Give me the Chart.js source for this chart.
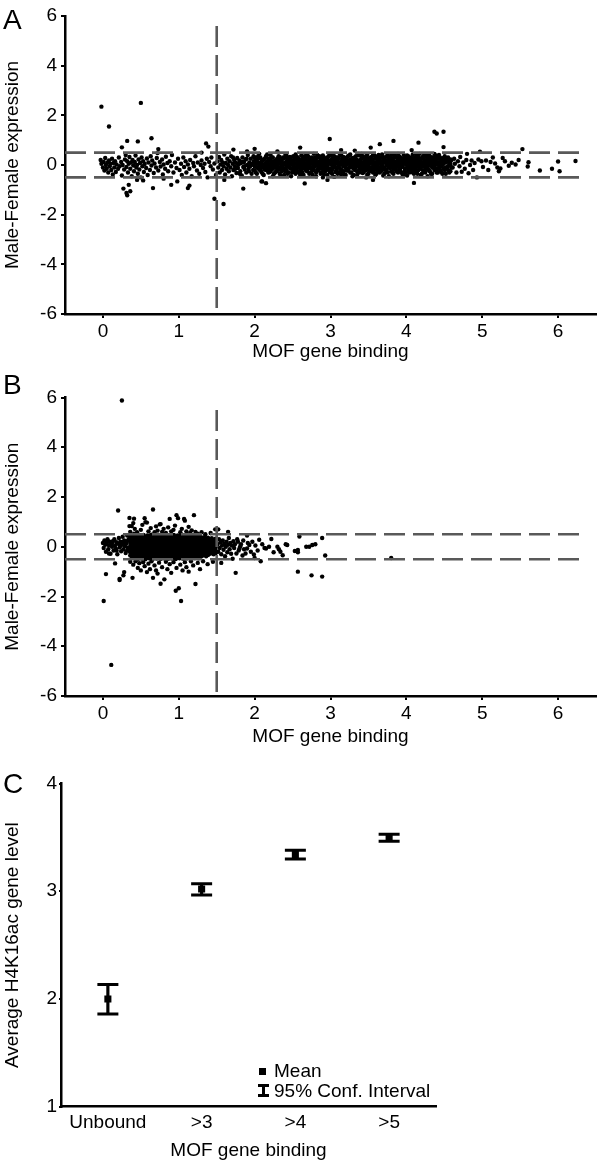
<!DOCTYPE html>
<html><head><meta charset="utf-8">
<script src="https://cdn.jsdelivr.net/npm/chart.js@4.4.1/dist/chart.umd.min.js"></script>
<style>
html,body{margin:0;padding:0;background:#fff;}
body{width:600px;height:1162px;position:relative;overflow:hidden;font-family:"Liberation Sans",Arial,Helvetica,sans-serif;color:#000;}
.wrap{position:absolute;left:0;width:600px;}
.letter{position:absolute;left:3px;font-size:28px;line-height:1;}
.leg{position:absolute;font-size:19px;line-height:1;white-space:nowrap;}
</style></head><body>
<div class="wrap" style="top:0;height:370px"><canvas id="cA" width="600" height="370"></canvas></div>
<div class="wrap" style="top:382px;height:370px"><canvas id="cB" width="600" height="370"></canvas></div>
<div class="wrap" style="top:770px;height:392px"><canvas id="cC" width="600" height="392"></canvas></div>
<div class="letter" style="top:6px">A</div>
<div class="letter" style="top:371px">B</div>
<div class="letter" style="top:770px">C</div>
<div style="position:absolute;left:259px;top:1068px;width:7px;height:7px;background:#000"></div>
<div class="leg" style="left:274px;top:1061px">Mean</div>
<div style="position:absolute;left:258px;top:1084px;width:11px;height:13px;">
  <div style="position:absolute;left:0;top:0;width:11px;height:3px;background:#000"></div>
  <div style="position:absolute;left:4px;top:0;width:3px;height:13px;background:#000"></div>
  <div style="position:absolute;left:0;top:10px;width:11px;height:3px;background:#000"></div>
</div>
<div class="leg" style="left:274px;top:1081px">95% Conf. Interval</div>
<script>
// ---------- shared ticks / reference lines ----------
const xTicksAB = [0, 1, 2, 3, 4, 5, 6];
const yTicksAB = [-6, -4, -2, 0, 2, 4, 6];
const foldLevels = [0.5, -0.5];
const bindingCutoff = 1.5;
const hLineSpan = [-0.5, 6.35];
const vLineTopA = 5.6;
const vLineTopB = 5.5;

// ---------- Panel A: scattered points [MOF binding, M-F expression] ----------
const aSparse = [
[-0.02,2.35],[0.08,1.55],[0.5,2.5],[0.64,1.08],[0.32,0.97],[0.46,0.95],[0.25,0.71],[0.73,0.64],[1.36,0.87],[1.39,0.74],
[1.47,-1.36],[1.59,-1.57],[0.27,-0.95],[0.31,-1.13],[0.32,-1.22],[0.36,-1.06],[0.34,-0.8],[0.66,-0.93],[0.9,-0.8],[0.98,-0.66],
[1.12,-0.93],[1.14,-0.83],[1.85,-0.95],[2.1,-0.66],[1.3,0.5],[0.45,-0.6],[0.53,-0.62],[0.8,-0.55],[1.6,-0.6],[1.72,0.62],[1.9,0.55],[2.0,0.65],
[-0.03,0.2],[-0.02,0.05],[0.0,-0.1],[0.01,0.12],[0.02,-0.22],[0.03,0.28],[0.04,0.0],[0.05,-0.15],[0.06,0.1],[0.07,-0.3],
[0.08,0.18],[0.09,-0.05],[0.1,0.05],[0.11,-0.2],[0.12,0.25],[0.13,-0.38],[0.14,0.08],[0.15,-0.1],[0.16,0.15],[0.17,-0.28],
[0.18,0.02],[0.2,-0.15],[0.21,0.3],[0.22,-0.05],[0.24,0.12],[0.25,-0.42],[0.26,0.0],[0.28,-0.18],[0.29,0.22],[0.3,0.4],
[0.31,-0.08],[0.32,0.15],[0.33,-0.3],[0.34,0.05],[0.35,0.32],[0.36,-0.15],[0.37,0.1],[0.38,-0.45],[0.39,0.2],[0.4,-0.02],
[0.41,-0.25],[0.42,0.12],[0.43,0.38],[0.44,-0.1],[0.45,0.0],[0.46,-0.35],[0.47,0.22],[0.48,-0.18],[0.49,0.08],[0.5,-0.5],
[0.51,0.3],[0.52,-0.05],[0.53,0.15],[0.54,-0.28],[0.55,0.04],[0.57,-0.12],[0.58,0.26],[0.59,-0.4],[0.6,0.1],[0.62,-0.2],
[0.63,0.35],[0.64,-0.02],[0.65,0.18],[0.67,-0.32],[0.68,0.06],[0.7,-0.1],[0.71,0.28],[0.72,0.48],[0.73,-0.22],[0.75,0.12],
[0.76,-0.06],[0.78,0.22],[0.79,-0.38],[0.8,0.02],[0.82,-0.15],[0.83,0.33],[0.85,0.08],[0.86,-0.25],[0.88,0.15],[0.9,-0.05],
[0.91,0.4],[0.93,-0.3],[0.95,0.1],[0.97,-0.12],[0.99,0.25],
[1.01,-0.2],[1.03,0.05],[1.04,-0.4],[1.06,0.3],[1.07,-0.08],[1.09,0.15],[1.1,-0.3],[1.12,0.02],[1.14,-0.15],[1.15,0.2],
[1.17,-0.45],[1.19,0.08],[1.2,-0.05],[1.22,0.35],[1.24,-0.22],[1.25,0.1],[1.27,-0.35],[1.29,0.0],[1.3,0.18],[1.32,-0.12],
[1.34,0.05],[1.35,-0.28],[1.37,0.25],[1.38,-0.5],[1.4,0.12],[1.42,-0.05],[1.43,0.3],[1.45,-0.18],[1.47,0.06],[1.49,-0.4],
[1.51,0.15],[1.52,-0.1],[1.53,0.32],[1.54,-0.3],[1.55,0.02],[1.56,0.2],[1.57,-0.2],[1.58,0.1],[1.59,-0.05],[1.6,0.42],
[1.61,-0.38],[1.62,0.08],[1.63,-0.15],[1.64,0.25],[1.65,0.0],[1.66,-0.25],[1.67,0.15],[1.68,-0.1],[1.69,0.35],[1.7,-0.45],
[1.71,0.05],[1.72,-0.2],[1.73,0.2],[1.74,-0.05],[1.75,0.1],[1.76,-0.32],[1.77,0.28],[1.78,-0.12],[1.79,0.02],[1.8,0.18],
[1.81,-0.25],[1.82,0.08],[1.83,-0.42],[1.84,0.3],[1.85,-0.08],[1.86,0.12],[1.87,-0.18],[1.88,0.22],[1.89,-0.3],[1.9,0.0],
[1.91,0.4],[1.92,-0.15],[1.93,0.1],[1.94,-0.05],[1.95,0.25],[1.96,-0.35],[1.97,0.05],[1.98,-0.2],[1.99,0.15],
[1.715,0.3],[1.745,-0.15],[1.775,0.05],[1.805,-0.35],[1.835,0.12],[1.865,-0.05],[1.895,0.25],[1.925,-0.25],[1.955,0.0],[1.985,0.35],
[4.61,-0.1],[4.63,0.25],[4.64,0.05],[4.66,-0.3],[4.68,0.15],[4.7,-0.05],[4.71,0.32],[4.73,-0.27],[4.75,0.1],[4.77,-0.15],
[4.79,0.2],[4.8,0.45],[4.82,-0.33],[4.84,0.0],[4.86,0.18],[4.88,-0.2],[4.9,0.08],[4.93,-0.5],[4.95,0.22],[4.97,0.54],
[4.99,0.15],[5.01,-0.08],[5.05,0.18],[5.08,-0.2],[5.11,0.12],[5.14,0.3],[5.17,0.06],[5.2,-0.1],[5.22,-0.25],[5.24,-0.14],
[5.27,0.28],[5.3,0.15],[5.35,-0.03],[5.39,0.09],[5.44,0.02],[5.48,0.2],[5.53,0.64],[5.6,-0.06],[5.61,0.11],[5.76,-0.22],
[5.92,-0.15],[6.0,0.14],[6.02,-0.25],[6.23,0.16]
];
// Panel A: dense band, [MOF binding, [M-F expression values at that binding]]
const aDense = [
[2.00,[0.12,-0.22,0.31,-0.05]],[2.03,[-0.1,0.2,-0.35,0.05]],[2.06,[0.0,0.28,-0.18,0.45]],[2.09,[-0.08,0.15,-0.28,0.08,-0.66]],
[2.12,[0.22,-0.12,0.02,-0.4]],[2.15,[0.1,-0.2,0.35,-0.02,-0.73]],[2.18,[-0.15,0.05,0.25,-0.3]],[2.21,[0.18,-0.05,-0.25,0.4]],
[2.24,[0.02,0.3,-0.15,-0.45,0.12]],[2.27,[-0.1,0.15,-0.3,0.08]],[2.30,[0.25,-0.02,-0.2,0.1,0.55]],[2.33,[-0.12,0.05,0.32,-0.35]],
[2.36,[0.1,-0.25,0.2,-0.05,0.0]],[2.39,[-0.18,0.28,0.02,-0.4]],[2.42,[0.15,-0.08,0.38,-0.22,0.05]],[2.45,[-0.02,0.2,-0.3,0.1]],
[2.48,[0.3,-0.15,0.05,-0.45,0.18]],[2.51,[-0.08,0.12,-0.25,0.35,0.0]],[2.54,[0.05,-0.18,0.22,-0.35,0.42]],[2.57,[-0.1,0.15,0.02,-0.28,0.3]],
[2.60,[0.2,-0.05,-0.2,0.1,-0.4,0.7]],[2.63,[0.0,0.28,-0.12,0.12,-0.3]],[2.66,[-0.15,0.08,0.35,-0.02,-0.74]],[2.69,[0.18,-0.25,0.05,-0.1,0.4]],
[2.72,[-0.05,0.22,-0.35,0.1,0.0]],[2.75,[0.12,-0.15,0.3,-0.28,0.05]],[2.78,[-0.2,0.02,0.18,-0.08,0.45]],[2.81,[0.08,-0.3,0.25,-0.02,0.15,-0.45]],
[2.84,[-0.12,0.1,-0.22,0.32,0.0]],[2.87,[0.2,-0.05,0.05,-0.35,0.28]],[2.90,[-0.18,0.15,-0.02,0.38,-0.1,-0.5]],[2.93,[0.05,-0.25,0.22,0.1,-0.12]],
[2.96,[-0.08,0.3,-0.4,0.0,0.15,-0.6]],[2.99,[0.18,-0.15,0.05,-0.28,0.42,1.05]],[3.02,[-0.02,0.25,-0.2,0.12,-0.35]],[3.05,[0.1,-0.1,0.35,-0.05,0.2,-0.48]],
[3.08,[-0.22,0.05,0.18,-0.12,0.3]],[3.11,[0.0,0.28,-0.3,0.1,-0.08]],[3.14,[0.15,-0.18,0.4,0.02,-0.38,0.6]],[3.17,[-0.05,0.2,-0.25,0.12,0.32]],
[3.20,[0.08,-0.12,0.25,-0.4,0.0]],[3.23,[-0.15,0.35,0.05,-0.22,0.18]],[3.26,[0.22,-0.05,-0.3,0.1,0.42]],[3.29,[-0.1,0.15,0.0,-0.45,0.28]],
[3.32,[0.05,-0.2,0.3,-0.08,0.12,0.58]],[3.35,[-0.25,0.1,0.2,-0.02,-0.4]],[3.38,[0.15,-0.12,0.38,0.0,-0.3]],[3.41,[-0.05,0.25,-0.18,0.08,0.45]],
[3.44,[0.12,-0.28,0.02,0.3,-0.1]],[3.47,[-0.2,0.18,-0.05,0.35,0.05,-0.5]],[3.50,[0.08,-0.15,0.25,-0.35,0.0]],[3.53,[-0.1,0.3,0.12,-0.22,0.7]],
[3.56,[0.2,-0.05,-0.3,0.05,0.4,-0.6]],[3.59,[-0.15,0.1,0.28,-0.4,0.0]],[3.62,[0.02,-0.22,0.18,0.35,-0.08]],[3.65,[0.25,-0.12,0.05,-0.3,0.12,0.84]],
[3.68,[-0.05,0.15,-0.2,0.42,0.0]],[3.71,[0.1,-0.35,0.22,-0.1,0.3]],[3.74,[-0.18,0.05,0.35,-0.02,-0.28]],[3.77,[0.15,-0.08,0.25,-0.45,0.08]],
[3.80,[-0.02,0.2,-0.25,0.1,0.4]],[3.83,[0.28,-0.15,0.0,-0.35,0.15,0.97]],[3.86,[-0.1,0.12,0.32,-0.2,0.02]],[3.89,[0.05,-0.3,0.2,-0.05,0.45]],
[3.92,[-0.22,0.18,0.08,0.3,-0.12]],[3.95,[0.12,-0.05,-0.38,0.25,0.0]],[3.98,[-0.15,0.3,0.05,-0.25,0.15]],[4.01,[0.2,-0.1,0.38,-0.02,-0.42]],
[4.04,[-0.05,0.15,-0.3,0.1,0.28]],[4.07,[0.08,-0.2,0.22,0.0,-0.12,0.6]],[4.10,[-0.12,0.3,0.05,-0.35,0.18,-0.72]],[4.13,[0.25,-0.08,0.12,-0.25,0.4]],
[4.16,[-0.2,0.05,0.32,-0.05,0.15,0.9]],[4.19,[0.1,-0.15,0.2,-0.4,0.02]],[4.22,[-0.05,0.35,-0.22,0.08,0.25]],[4.25,[0.18,-0.1,0.0,-0.3,0.42]],
[4.28,[-0.15,0.12,0.28,-0.05,-0.45]],[4.31,[0.05,-0.25,0.2,0.35,-0.02]],[4.34,[-0.1,0.15,-0.35,0.08,0.3]],[4.37,[0.22,-0.05,0.1,-0.2,1.34,0.45]],
[4.40,[-0.18,0.3,0.02,-0.3,1.27]],[4.43,[0.1,-0.12,0.25,-0.02,0.4]],[4.46,[-0.05,0.18,-0.28,0.12]],[4.49,[0.28,-0.15,0.05,0.72,1.34]],
[4.52,[-0.1,0.2,-0.35,0.1]],[4.55,[0.15,-0.05,0.3,-0.2]],[4.58,[0.02,-0.25,0.22,0.08]],
[2.015,[0.05,-0.3,0.22]],[2.045,[0.35,-0.12,0.1]],[2.075,[-0.22,0.08,0.3]],[2.105,[0.18,-0.35,0.0]],[2.135,[-0.05,0.25,-0.18]],
[2.165,[0.12,-0.1,0.42]],[2.195,[-0.28,0.2,0.0]],[2.225,[0.08,-0.15,0.3]],[2.255,[-0.35,0.15,-0.02]],[2.285,[0.22,0.0,-0.25]],
[2.315,[-0.1,0.35,0.12]],[2.345,[0.18,-0.2,-0.42]],[2.375,[0.05,0.3,-0.12]],[2.405,[-0.25,0.1,0.4]],[2.435,[0.25,-0.05,-0.35]],
[2.465,[-0.12,0.12,0.32]],[2.495,[0.15,-0.3,0.02]],[2.525,[-0.2,0.25,0.08]],[2.555,[0.32,-0.08,-0.15]],[2.585,[-0.3,0.05,0.2]],
[2.615,[0.1,-0.18,0.38]],[2.645,[-0.08,0.22,-0.4]],[2.675,[0.28,0.0,-0.2]],[2.705,[-0.15,0.12,0.35]],[2.735,[0.05,-0.32,0.18]],
[2.765,[0.22,-0.1,-0.4]],[2.795,[-0.05,0.3,0.1]],[2.825,[-0.2,0.05,0.4]],[2.855,[0.15,-0.15,0.35]],[2.885,[0.05,-0.3,0.22]],
[2.915,[-0.1,0.3,-0.38]],[2.945,[0.25,0.02,-0.2]],[2.975,[-0.15,0.12,0.35]],[3.005,[0.08,-0.25,0.4]],[3.035,[-0.1,0.35,0.02]],
[3.065,[0.2,-0.28,0.1]],[3.095,[-0.35,0.15,0.3]],[3.125,[0.05,-0.15,0.42]],[3.155,[-0.25,0.25,0.08]],[3.185,[0.15,-0.05,-0.38]],
[3.215,[0.3,-0.22,0.02]],[3.245,[-0.12,0.1,0.38]],[3.275,[0.05,-0.3,0.22]],[3.305,[0.28,-0.15,-0.4]],[3.335,[-0.08,0.35,0.15]],
[3.365,[0.1,-0.25,0.45]],[3.395,[-0.18,0.2,0.05]],[3.425,[0.35,-0.05,-0.32]],[3.455,[0.0,0.25,-0.2]],[3.485,[0.15,-0.38,0.4]],
[3.515,[-0.25,0.05,0.22]],[3.545,[0.1,-0.15,0.32]],[3.575,[-0.05,0.4,-0.22]],[3.605,[0.25,-0.35,0.08]],[3.635,[-0.1,0.15,0.4]],
[3.665,[0.05,-0.25,0.3]],[3.695,[0.3,-0.1,-0.42]],[3.725,[-0.2,0.2,0.1]],[3.755,[0.12,-0.3,0.38]],[3.785,[-0.12,0.3,0.02]],
[3.815,[0.2,-0.05,-0.3]],[3.845,[0.05,0.4,-0.15]],[3.875,[-0.25,0.1,0.28]],[3.905,[0.35,-0.15,0.0]],[3.935,[-0.08,0.22,-0.3]],
[3.965,[0.15,-0.4,0.4]],[3.995,[-0.3,0.08,0.25]],[4.025,[0.1,-0.2,0.35]],[4.055,[-0.15,0.3,0.0]],[4.085,[0.25,-0.3,0.42]],
[4.115,[0.0,0.18,-0.22]],[4.145,[-0.35,0.1,0.3]],[4.175,[0.2,-0.1,0.45]],[4.205,[-0.05,0.28,-0.35]],[4.235,[0.12,-0.22,0.38]],
[4.265,[0.32,0.02,-0.15]],[4.295,[-0.2,0.15,0.42]],[4.325,[0.1,-0.35,0.25]],[4.355,[-0.1,0.3,0.0]],[4.385,[0.18,-0.15,0.38]],
[4.415,[-0.3,0.08,0.25]],[4.445,[0.3,-0.05,-0.2]],[4.475,[0.0,0.2,-0.35]],[4.505,[0.15,-0.2,0.35]],[4.535,[-0.1,0.28]],
[4.565,[0.05,-0.3]],[4.595,[0.2,-0.1]]
];

// ---------- Panel B ----------
const bSparse = [
[0.25,5.88],[0.11,-4.75],[0.01,-2.18],[0.04,-1.1],[0.22,-1.29],[0.22,-1.34],[0.28,-1.02],[0.27,-1.15],[0.16,-0.67],[0.08,-0.27],
[0.2,1.46],[0.35,1.16],[0.41,1.13],[0.35,0.83],
[0.0,0.15],[0.01,-0.05],[0.02,0.25],[0.03,0.08],[0.04,-0.2],[0.05,0.12],[0.06,0.3],[0.07,-0.1],[0.08,0.05],[0.09,0.2],
[0.1,-0.28],[0.11,0.1],[0.12,0.0],[0.13,0.22],[0.14,-0.15],[0.15,0.3],[0.16,0.05],[0.17,-0.08],[0.18,0.18],[0.19,-0.3],
[0.2,0.12],[0.21,0.35],[0.22,-0.02],[0.23,0.2],[0.24,-0.18],[0.25,0.08],[0.26,0.4],[0.27,-0.1],[0.28,0.25],[0.29,0.02],
[0.3,-0.25],[0.31,0.15],[0.32,0.45],[0.33,-0.05],[0.34,0.3],
[0.05,0.22],[0.12,0.15],[0.18,-0.15],[0.23,0.05],[0.27,0.18],[0.3,0.08],[0.32,-0.15],[0.33,0.25],
[0.36,0.6],[0.38,0.83],[0.4,0.95],[0.42,0.72],[0.45,0.58],[0.5,0.68],[0.52,0.88],[0.55,1.15],[0.56,0.99],[0.58,0.97],
[0.6,0.62],[0.63,0.75],[0.66,1.5],[0.68,0.58],[0.7,0.82],[0.72,0.65],[0.75,0.9],[0.76,0.91],[0.78,0.6],[0.8,0.72],
[0.83,0.55],[0.86,0.78],[0.88,1.12],[0.9,0.62],[0.93,0.68],[0.95,0.85],[0.97,1.27],[0.99,1.15],[1.02,0.58],[1.04,0.72],
[1.07,1.12],[1.08,1.05],[1.1,0.62],[1.13,0.8],[1.15,0.55],[1.17,0.66],[1.2,1.27],[1.22,0.6],[1.25,0.52],[1.3,0.58],
[1.35,0.5],[1.42,0.55],[1.48,0.7],
[0.36,-0.6],[0.39,-1.25],[0.4,-0.72],[0.43,-0.58],[0.46,-0.85],[0.48,-0.66],[0.5,-0.95],[0.53,-0.62],[0.55,-0.78],[0.58,-1.02],
[0.6,-0.68],[0.62,-0.9],[0.64,-0.58],[0.66,-1.25],[0.68,-0.75],[0.7,-0.95],[0.72,-1.08],[0.74,-0.64],[0.76,-1.49],[0.78,-0.82],
[0.81,-1.31],[0.83,-0.6],[0.85,-0.9],[0.88,-0.7],[0.9,-1.05],[0.93,-0.62],[0.96,-1.77],[0.97,-0.85],[1.0,-1.67],[1.02,-0.72],
[1.03,-2.18],[1.05,-0.95],[1.08,-0.62],[1.1,-0.82],[1.13,-1.0],[1.16,-0.58],[1.19,-0.75],[1.22,-1.5],[1.25,-0.65],[1.28,-0.9],
[1.32,-0.58],[1.38,-0.7],[1.45,-0.6],
[1.51,0.1],[1.52,-0.2],[1.53,0.3],[1.54,-0.05],[1.55,0.18],[1.56,-0.3],[1.57,0.05],[1.58,0.25],[1.59,-0.12],[1.6,0.12],
[1.61,-0.38],[1.62,0.0],[1.63,0.2],[1.64,-0.22],[1.65,0.08],[1.66,0.35],[1.67,-0.1],[1.68,0.15],[1.69,-0.28],[1.7,0.05],
[1.71,-0.48],[1.72,0.22],[1.73,-0.05],[1.74,0.1],[1.75,-1.05],[1.76,-0.27],[1.77,0.3],[1.78,0.2],[1.79,-0.15],[1.8,-0.07],
[1.81,0.02],[1.82,0.1],[1.84,-0.35],[1.85,0.25],[1.86,-0.1],[1.88,-0.27],[1.9,-0.07],[1.91,0.15],[1.93,0.07],[1.95,-0.2],
[1.97,0.2],[1.99,-0.31],[2.01,0.05],[2.04,-0.15],[2.06,0.28],[2.08,-0.58],[2.1,0.1],[2.13,-0.05],[2.15,-0.07],[2.19,0.0],
[2.22,0.31],[2.25,-0.22],[2.3,0.0],[2.32,-0.1],[2.34,-0.2],[2.37,-0.34],[2.41,0.1],[2.43,0.07],[2.53,-0.17],[2.57,-0.22],
[2.57,-0.13],[2.57,-1.0],[2.59,0.41],[2.68,0.0],[2.72,0.0],[2.75,-1.15],[2.76,0.07],[2.8,0.1],[2.89,0.35],[2.89,-1.2],
[2.93,-0.35],[3.8,-0.45],[1.65,0.6],[1.52,0.7],[1.56,-0.65],[1.9,0.45],[2.0,-0.45]
];
const bDense = [
[0.36,[0.4,0.28,0.15,0.03,-0.1,-0.22,-0.35]],[0.385,[0.45,0.32,0.2,0.08,-0.05,-0.17,-0.3,-0.44]],
[0.41,[0.38,0.25,0.12,0.0,-0.12,-0.25,-0.38,0.52]],[0.435,[0.44,0.3,0.18,0.05,-0.08,-0.2,-0.33,-0.46]],
[0.46,[0.4,0.27,0.14,0.02,-0.1,-0.23,-0.36,-0.5]],[0.485,[0.46,0.33,0.2,0.07,-0.05,-0.18,-0.3,-0.42]],
[0.51,[0.42,0.29,0.16,0.04,-0.09,-0.21,-0.34,-0.47]],[0.535,[0.47,0.34,0.21,0.08,-0.04,-0.16,-0.29,-0.41]],
[0.56,[0.4,0.27,0.15,0.02,-0.11,-0.24,-0.37,-0.5]],[0.585,[0.45,0.32,0.19,0.06,-0.06,-0.19,-0.31,-0.44]],
[0.61,[0.43,0.3,0.17,0.04,-0.08,-0.21,-0.34,-0.46]],[0.635,[0.48,0.35,0.22,0.09,-0.03,-0.15,-0.28,-0.4]],
[0.66,[0.41,0.28,0.15,0.03,-0.1,-0.22,-0.35,-0.48]],[0.685,[0.46,0.33,0.2,0.07,-0.06,-0.18,-0.31,-0.43]],
[0.71,[0.42,0.29,0.16,0.04,-0.09,-0.22,-0.34,-0.47]],[0.735,[0.47,0.34,0.21,0.08,-0.04,-0.17,-0.29,-0.42]],
[0.76,[0.4,0.27,0.14,0.01,-0.11,-0.24,-0.37,-0.49]],[0.785,[0.45,0.32,0.19,0.06,-0.07,-0.19,-0.32,-0.44]],
[0.81,[0.43,0.3,0.17,0.05,-0.08,-0.2,-0.33,-0.46]],[0.835,[0.48,0.35,0.22,0.09,-0.03,-0.16,-0.28,-0.41]],
[0.86,[0.41,0.28,0.15,0.02,-0.1,-0.23,-0.36,-0.48]],[0.885,[0.46,0.33,0.2,0.07,-0.05,-0.18,-0.3,-0.43]],
[0.91,[0.42,0.29,0.16,0.03,-0.09,-0.22,-0.35,-0.47]],[0.935,[0.47,0.34,0.21,0.08,-0.04,-0.17,-0.29,-0.42]],
[0.96,[0.4,0.27,0.14,0.02,-0.11,-0.23,-0.36,-0.49]],[0.985,[0.45,0.32,0.19,0.06,-0.07,-0.19,-0.32,-0.44]],
[1.01,[0.43,0.3,0.17,0.04,-0.08,-0.21,-0.33,-0.46]],[1.035,[0.48,0.35,0.22,0.09,-0.03,-0.16,-0.28,-0.41]],
[1.06,[0.41,0.28,0.15,0.03,-0.1,-0.22,-0.35,-0.48]],[1.085,[0.46,0.33,0.2,0.07,-0.06,-0.18,-0.31,-0.43]],
[1.11,[0.42,0.29,0.16,0.04,-0.09,-0.21,-0.34,-0.46]],[1.135,[0.47,0.34,0.21,0.08,-0.04,-0.17,-0.29,-0.42]],
[1.16,[0.4,0.27,0.14,0.02,-0.11,-0.24,-0.36,-0.49]],[1.185,[0.44,0.31,0.18,0.06,-0.07,-0.19,-0.32,-0.44]],
[1.21,[0.42,0.29,0.16,0.04,-0.08,-0.21,-0.33,-0.45]],[1.235,[0.45,0.33,0.2,0.08,-0.04,-0.16,-0.28,-0.4]],
[1.26,[0.38,0.26,0.14,0.02,-0.1,-0.22,-0.34,-0.46]],[1.285,[0.4,0.28,0.16,0.05,-0.07,-0.19,-0.31,-0.42]],
[1.31,[0.35,0.23,0.11,0.0,-0.12,-0.24,-0.36]],[1.335,[0.38,0.26,0.14,0.03,-0.09,-0.2,-0.32]],
[1.36,[0.33,0.21,0.1,-0.02,-0.14,-0.26,-0.38]],[1.385,[0.36,0.24,0.12,0.01,-0.11,-0.22,-0.33]],
[1.41,[0.3,0.18,0.07,-0.04,-0.16,-0.28]],[1.435,[0.34,0.22,0.1,-0.01,-0.13,-0.25]],
[1.46,[0.28,0.16,0.05,-0.06,-0.18,-0.3]],[1.485,[0.32,0.2,0.08,-0.03,-0.15,-0.26]]
];

// ---------- Panel C ----------
const cCategories = ['Unbound', '>3', '>4', '>5'];
const cMeans = [2.0, 3.02, 3.34, 3.495];
const cLow = [1.86, 2.965, 3.30, 3.465];
const cHigh = [2.135, 3.07, 3.38, 3.53];
const yTicksC = [1, 2, 3, 4];

// ---------- building ----------
const FONT = '"Liberation Sans", Arial, Helvetica, sans-serif';
const toXY = (sparse, dense) => {
  const out = sparse.map(p => ({x: p[0], y: p[1]}));
  dense.forEach(c => c[1].forEach(v => out.push({x: c[0], y: v})));
  return out;
};
const dashStyle = {type: 'line', borderColor: '#595959', borderWidth: 2.6, borderDash: [21, 8], pointRadius: 0, fill: false, showLine: true};

function makeScatter(id, pts, vTop, padTop, titlePadBottom) {
  return new Chart(document.getElementById(id), {
    type: 'scatter',
    data: {datasets: [
      Object.assign({}, dashStyle, {data: [{x: hLineSpan[0], y: foldLevels[0]}, {x: hLineSpan[1], y: foldLevels[0]}]}),
      Object.assign({}, dashStyle, {data: [{x: hLineSpan[0], y: foldLevels[1]}, {x: hLineSpan[1], y: foldLevels[1]}]}),
      Object.assign({}, dashStyle, {data: [{x: bindingCutoff, y: vTop}, {x: bindingCutoff, y: -6}]}),
      {data: pts, pointRadius: 2.2, pointBackgroundColor: '#000', pointBorderWidth: 0, backgroundColor: '#000'}
    ]},
    options: {
      responsive: false, animation: false, events: [],
      layout: {padding: {top: padTop, right: 1, left: 0, bottom: 0}},
      plugins: {legend: {display: false}, tooltip: {enabled: false}},
      scales: {
        x: {type: 'linear', min: -0.5, max: 6.5,
          afterBuildTicks: s => { s.ticks = xTicksAB.map(v => ({value: v})); },
          afterFit: s => { s.height = 56; },
          ticks: {color: '#000', font: {family: FONT, size: 19}, padding: 2, maxRotation: 0, autoSkip: false},
          grid: {drawOnChartArea: false, color: '#000', lineWidth: 2, tickLength: 4},
          border: {color: '#000', width: 2.5},
          title: {display: true, text: 'MOF gene binding', color: '#000', font: {family: FONT, size: 19}, padding: {top: 0, bottom: titlePadBottom}}},
        y: {type: 'linear', min: -6, max: 6,
          afterBuildTicks: s => { s.ticks = yTicksAB.map(v => ({value: v})); },
          afterFit: s => { s.width = 65; },
          ticks: {color: '#000', font: {family: FONT, size: 19}, padding: 4},
          grid: {drawOnChartArea: false, color: '#000', lineWidth: 2, tickLength: 4},
          border: {color: '#000', width: 2.5},
          title: {display: true, text: 'Male-Female expression', color: '#000', font: {family: FONT, size: 19}, padding: {top: 1, bottom: 0}}}
      }
    }
  });
}

makeScatter('cA', toXY(aSparse, aDense), vLineTopA, 16, 6.5);
makeScatter('cB', toXY(bSparse, bDense), vLineTopB, 15.5, 3.5);

new Chart(document.getElementById('cC'), {
  type: 'bar',
  data: {labels: cCategories, datasets: [
    {type: 'line', data: cMeans, showLine: false, pointStyle: 'rect', pointRadius: 5, pointBackgroundColor: '#000', pointBorderWidth: 0},
    {type: 'line', data: cHigh, showLine: false, pointStyle: 'line', pointRadius: 10.5, pointBorderColor: '#000', pointBorderWidth: 3},
    {type: 'line', data: cLow, showLine: false, pointStyle: 'line', pointRadius: 10.5, pointBorderColor: '#000', pointBorderWidth: 3},
    {type: 'bar', data: cLow.map((l, i) => [l, cHigh[i]]), backgroundColor: '#000', barThickness: 2.5, borderWidth: 0}
  ]},
  options: {
    responsive: false, animation: false, events: [],
    layout: {padding: {top: 11.7, right: 164, left: 0, bottom: 0}},
    plugins: {legend: {display: false}, tooltip: {enabled: false}},
    scales: {
      x: {type: 'category', offset: true,
        afterFit: s => { s.height = 55.3; },
        ticks: {color: '#000', font: {family: FONT, size: 19}, padding: 2, maxRotation: 0, autoSkip: false},
        grid: {drawOnChartArea: false, color: 'rgba(0,0,0,0)', tickLength: 3},
        border: {color: '#000', width: 2.5},
        title: {display: true, text: 'MOF gene binding', color: '#000', font: {family: FONT, size: 19}, padding: {top: 0, bottom: 0}}},
      y: {type: 'linear', min: 1, max: 4,
        afterBuildTicks: s => { s.ticks = yTicksC.map(v => ({value: v})); },
        afterFit: s => { s.width = 61; },
        ticks: {color: '#000', font: {family: FONT, size: 19}, padding: 2},
        grid: {drawOnChartArea: false, color: '#000', lineWidth: 2, tickLength: 2},
        border: {color: '#000', width: 2.5},
        title: {display: true, text: 'Average H4K16ac gene level', color: '#000', font: {family: FONT, size: 19}, padding: {top: 1, bottom: 0}}}
    }
  }
});
</script>
</body></html>
